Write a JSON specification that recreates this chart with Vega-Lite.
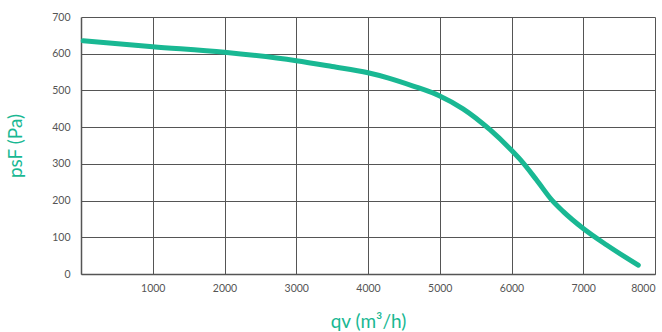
{
  "$schema": "https://vega.github.io/schema/vega-lite/v6.json",
  "autosize": "none",
  "padding": {"left": 81, "top": 17, "right": 7, "bottom": 58},
  "width": 574,
  "height": 257,
  "background": "white",
  "config": {
    "view": {"stroke": null},
    "font": "Lato"
  },
  "data": {
    "values": [
      {"qv": 30, "psF": 635},
      {"qv": 1000, "psF": 619},
      {"qv": 2000, "psF": 604},
      {"qv": 3000, "psF": 581},
      {"qv": 3500, "psF": 565},
      {"qv": 4000, "psF": 548},
      {"qv": 4300, "psF": 533},
      {"qv": 4630, "psF": 512},
      {"qv": 5000, "psF": 485},
      {"qv": 5324, "psF": 450},
      {"qv": 5700, "psF": 393},
      {"qv": 6000, "psF": 337},
      {"qv": 6120, "psF": 312},
      {"qv": 6350, "psF": 256},
      {"qv": 6560, "psF": 202},
      {"qv": 6722, "psF": 170},
      {"qv": 7000, "psF": 124},
      {"qv": 7326, "psF": 79},
      {"qv": 7767, "psF": 24}
    ]
  },
  "mark": {"type": "line", "color": "#19b893", "strokeWidth": 5, "interpolate": "monotone", "strokeCap": "round"},
  "encoding": {
    "x": {
      "field": "qv", "type": "quantitative",
      "scale": {"domain": [0, 8000], "nice": false},
      "axis": {
        "title": "qv (m³/h)",
        "values": [1000, 2000, 3000, 4000, 5000, 6000, 7000, 8000],
        "format": "d",
        "grid": true, "gridColor": "#555", "gridWidth": 1, "gridOpacity": 1,
        "domainColor": "#555", "domainWidth": 1.5,
        "ticks": false,
        "labelFontSize": 10.5, "labelColor": "#555", "labelPadding": 9,
        "titleFontSize": 19, "titleFontWeight": "normal", "titleColor": "#19b893", "titlePadding": 19
      }
    },
    "y": {
      "field": "psF", "type": "quantitative",
      "scale": {"domain": [0, 700], "nice": false},
      "axis": {
        "title": "psF (Pa)",
        "values": [0, 100, 200, 300, 400, 500, 600, 700],
        "grid": true, "gridColor": "#555", "gridWidth": 1, "gridOpacity": 1,
        "domainColor": "#555", "domainWidth": 1.5,
        "ticks": false,
        "labelFontSize": 10.5, "labelColor": "#555", "labelPadding": 11,
        "titleFontSize": 19, "titleFontWeight": "normal", "titleColor": "#19b893", "titlePadding": 26
      }
    }
  }
}
